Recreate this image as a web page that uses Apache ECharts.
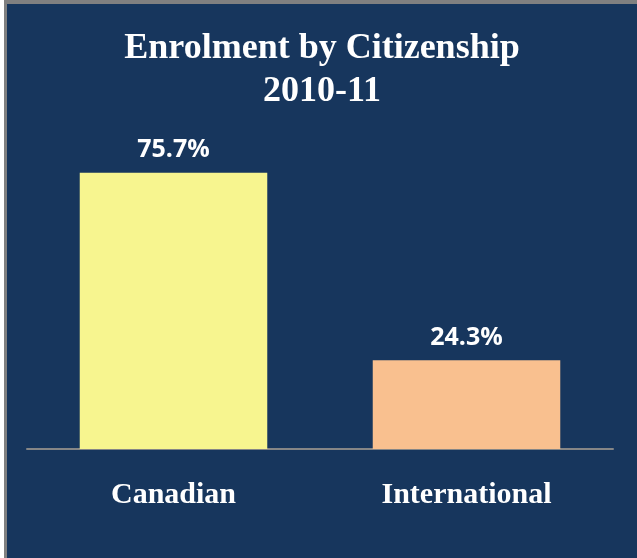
<!DOCTYPE html>
<html>
<head>
<meta charset="utf-8">
<script src="https://cdn.jsdelivr.net/npm/echarts@6/dist/echarts.min.js"></script>
<style>
html,body{margin:0;padding:0;background:#ffffff;}
#frame{position:absolute;left:0;top:0;width:637px;height:558px;}
#border{position:absolute;left:4px;top:0;width:633px;height:558px;background:#808080;}
#chart{position:absolute;left:7px;top:4px;width:630px;height:554px;background:#17365d;}
</style>
</head>
<body>
<div id="frame"><div id="border"></div><div id="chart"></div></div>
<script>
const categories = ['Canadian', 'International'];
const values = [75.7, 24.3];
const barColors = ['#f7f58f', '#f9c08f'];
const titleLines = ['Enrolment by Citizenship', '2010-11'];

const chart = echarts.init(document.getElementById('chart'));
chart.setOption({
  animation: false,
  backgroundColor: '#17365d',
  title: {
    text: titleLines.join('\n'),
    left: 'center',
    top: 18,
    textStyle: {
      color: '#ffffff',
      fontFamily: 'Liberation Serif, Times New Roman, serif',
      fontWeight: 'bold',
      fontSize: 36,
      lineHeight: 43
    }
  },
  grid: { left: 20, right: 24, top: 80, bottom: 109 },
  xAxis: {
    type: 'category',
    data: categories,
    axisLine: { show: true, lineStyle: { color: '#868686', width: 2 } },
    axisTick: { show: false },
    axisLabel: {
      color: '#ffffff',
      fontFamily: 'Liberation Serif, Times New Roman, serif',
      fontWeight: 'bold',
      fontSize: 30,
      margin: 31
    }
  },
  yAxis: {
    type: 'value',
    min: 0,
    max: 100,
    show: false,
    splitLine: { show: false }
  },
  series: [{
    type: 'bar',
    data: values.map((v, i) => ({ value: v, itemStyle: { color: barColors[i] } })),
    barWidth: '64%',
    label: {
      show: true,
      position: 'top',
      distance: 10,
      formatter: p => p.value.toFixed(1) + '%',
      color: '#ffffff',
      fontFamily: 'Open Sans, Noto Sans, sans-serif',
      fontWeight: 'bold',
      fontSize: 25
    }
  }]
});
</script>
</body>
</html>
